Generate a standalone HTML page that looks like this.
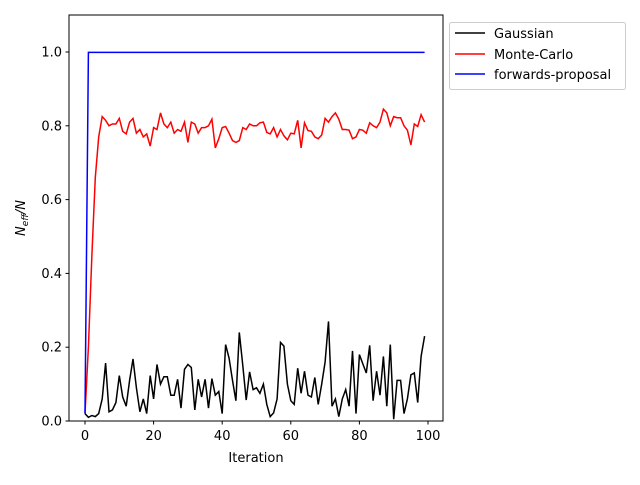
<!DOCTYPE html>
<html><head><meta charset="utf-8"><style>
body{margin:0;background:#fff;}
svg text{font-family:"DejaVu Sans","Liberation Sans",sans-serif;font-size:13px;fill:#000;}
</style></head><body>
<svg id="chart" width="640" height="480" xmlns="http://www.w3.org/2000/svg">
<rect width="640" height="480" fill="#fff"/>
<g id="plot"></g>
<rect x="69" y="15" width="374" height="406" fill="none" stroke="#000" stroke-width="1"/>
<g id="axes"></g>
<text x="256" y="462" text-anchor="middle">Iteration</text>
<text transform="translate(25,218) rotate(-90)" text-anchor="middle"><tspan font-style="italic">N</tspan><tspan font-size="9" dy="3" font-style="italic">eff</tspan><tspan dy="-3" font-style="italic">/N</tspan></text>
<g>
<rect x="449.5" y="22.5" width="176" height="67" rx="2" fill="#fff" stroke="#ccc"/>
<line x1="455" y1="33" x2="485" y2="33" stroke="#000" stroke-width="1.5"/>
<text x="494" y="38">Gaussian</text>
<line x1="455" y1="54" x2="485" y2="54" stroke="red" stroke-width="1.5"/>
<text x="494" y="59">Monte-Carlo</text>
<line x1="455" y1="74" x2="485" y2="74" stroke="blue" stroke-width="1.5"/>
<text x="494" y="79">forwards-proposal</text>
</g>
</svg>
<script>
const gaussian=[0.02,0.01,0.015,0.012,0.02,0.06,0.157,0.025,0.03,0.05,0.123,0.065,0.04,0.11,0.168,0.09,0.025,0.06,0.02,0.123,0.06,0.153,0.1,0.12,0.12,0.07,0.07,0.113,0.035,0.14,0.153,0.145,0.03,0.113,0.065,0.113,0.035,0.115,0.07,0.08,0.02,0.207,0.17,0.11,0.055,0.24,0.15,0.057,0.133,0.085,0.09,0.075,0.1,0.045,0.012,0.022,0.06,0.213,0.203,0.1,0.055,0.045,0.143,0.075,0.135,0.07,0.065,0.118,0.045,0.1,0.16,0.27,0.04,0.06,0.012,0.06,0.085,0.04,0.19,0.02,0.18,0.155,0.13,0.205,0.055,0.135,0.07,0.175,0.04,0.207,0.005,0.11,0.11,0.02,0.06,0.125,0.13,0.05,0.175,0.23];
const monteCarlo=[0.02,0.2,0.45,0.66,0.77,0.825,0.815,0.8,0.805,0.805,0.82,0.785,0.778,0.81,0.82,0.78,0.79,0.77,0.778,0.745,0.795,0.79,0.835,0.805,0.795,0.81,0.78,0.79,0.785,0.81,0.755,0.81,0.805,0.78,0.795,0.795,0.8,0.818,0.74,0.765,0.795,0.798,0.78,0.76,0.755,0.76,0.795,0.79,0.805,0.8,0.8,0.808,0.81,0.782,0.778,0.795,0.77,0.79,0.773,0.762,0.78,0.778,0.815,0.74,0.808,0.787,0.785,0.77,0.765,0.775,0.82,0.81,0.825,0.835,0.818,0.79,0.79,0.788,0.765,0.77,0.79,0.788,0.78,0.808,0.8,0.795,0.81,0.845,0.835,0.8,0.825,0.822,0.822,0.8,0.788,0.748,0.805,0.798,0.83,0.81];
const forwards=[0.02].concat(Array(99).fill(0.999));
const xTicks=[0,20,40,60,80,100];
const yTicks=[0.0,0.2,0.4,0.6,0.8,1.0];
const NS="http://www.w3.org/2000/svg";
function xs(v){return 85+v*3.43;}
function ys(v){return 421-v*369;}
const plot=document.getElementById('plot'),axes=document.getElementById('axes');
function series(data,color,name){
  const p=document.createElementNS(NS,'polyline');
  p.setAttribute('points',data.map((v,i)=>xs(i).toFixed(1)+','+ys(v).toFixed(1)).join(' '));
  p.setAttribute('fill','none');p.setAttribute('stroke',color);p.setAttribute('stroke-width','1.5');
  
  
  plot.appendChild(p);
}
series(gaussian,'#000','gaussian-line');
series(monteCarlo,'red','monte-carlo-line');
series(forwards,'blue','forwards-proposal-line');
xTicks.forEach(t=>{
  const l=document.createElementNS(NS,'line');
  l.setAttribute('x1',xs(t));l.setAttribute('x2',xs(t));l.setAttribute('y1',421);l.setAttribute('y2',424.5);l.setAttribute('stroke','#000');
  
  
  axes.appendChild(l);
  const tx=document.createElementNS(NS,'text');
  tx.setAttribute('x',xs(t));tx.setAttribute('y',440);tx.setAttribute('text-anchor','middle');tx.textContent=t;
  
  
  axes.appendChild(tx);
});
yTicks.forEach(t=>{
  const l=document.createElementNS(NS,'line');
  l.setAttribute('x1',65.5);l.setAttribute('x2',69);l.setAttribute('y1',ys(t));l.setAttribute('y2',ys(t));l.setAttribute('stroke','#000');
  
  
  axes.appendChild(l);
  const tx=document.createElementNS(NS,'text');
  tx.setAttribute('x',62);tx.setAttribute('y',ys(t)+4.5);tx.setAttribute('text-anchor','end');tx.textContent=t.toFixed(1);
  
  
  axes.appendChild(tx);
});
</script>
</body></html>
